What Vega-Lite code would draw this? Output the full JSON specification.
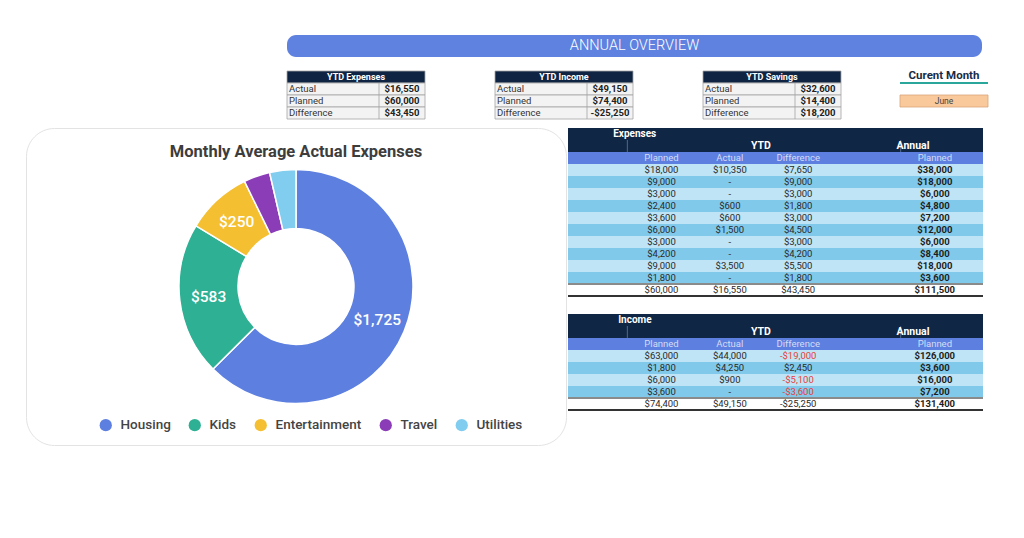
{
  "$schema": "https://vega.github.io/schema/vega-lite/v6.json",
  "background": "white",
  "padding": {"left": 25, "top": 35, "right": 0, "bottom": 0},
  "spacing": 7,
  "config": {"view": {"stroke": null}, "font": "Roboto"},
  "datasets": {
    "donut": [
      {"cat": "Housing", "value": 1725, "rank": 1},
      {"cat": "Kids", "value": 583, "rank": 2},
      {"cat": "Entertainment", "value": 250, "rank": 3},
      {"cat": "Travel", "value": 100, "rank": 4},
      {"cat": "Utilities", "value": 100, "rank": 5}
    ],
    "summary": [
      {"tbl": "YTD Expenses", "r": "h", "label": "YTD Expenses"},
      {"tbl": "YTD Expenses", "r": "a", "label": "Actual", "value": "$16,550"},
      {"tbl": "YTD Expenses", "r": "p", "label": "Planned", "value": "$60,000"},
      {"tbl": "YTD Expenses", "r": "d", "label": "Difference", "value": "$43,450"},
      {"tbl": "YTD Income", "r": "h", "label": "YTD Income"},
      {"tbl": "YTD Income", "r": "a", "label": "Actual", "value": "$49,150"},
      {"tbl": "YTD Income", "r": "p", "label": "Planned", "value": "$74,400"},
      {"tbl": "YTD Income", "r": "d", "label": "Difference", "value": "-$25,250"},
      {"tbl": "YTD Savings", "r": "h", "label": "YTD Savings"},
      {"tbl": "YTD Savings", "r": "a", "label": "Actual", "value": "$32,600"},
      {"tbl": "YTD Savings", "r": "p", "label": "Planned", "value": "$14,400"},
      {"tbl": "YTD Savings", "r": "d", "label": "Difference", "value": "$18,200"}
    ],
    "month": [
      {"r": "title", "t": "Curent Month"},
      {"r": "month", "t": "June"}
    ],
    "exp": [
      {"r": "title", "lab": "Expenses"},
      {"r": "ytd", "lab": "YTD", "lab2": "Annual"},
      {"r": "hdr", "planned": "Planned", "actual": "Actual", "diff": "Difference", "annual": "Planned"},
      {"r": "r1", "planned": "$18,000", "actual": "$10,350", "diff": "$7,650", "annual": "$38,000"},
      {"r": "r2", "planned": "$9,000", "actual": "-", "diff": "$9,000", "annual": "$18,000"},
      {"r": "r3", "planned": "$3,000", "actual": "-", "diff": "$3,000", "annual": "$6,000"},
      {"r": "r4", "planned": "$2,400", "actual": "$600", "diff": "$1,800", "annual": "$4,800"},
      {"r": "r5", "planned": "$3,600", "actual": "$600", "diff": "$3,000", "annual": "$7,200"},
      {"r": "r6", "planned": "$6,000", "actual": "$1,500", "diff": "$4,500", "annual": "$12,000"},
      {"r": "r7", "planned": "$3,000", "actual": "-", "diff": "$3,000", "annual": "$6,000"},
      {"r": "r8", "planned": "$4,200", "actual": "-", "diff": "$4,200", "annual": "$8,400"},
      {"r": "r9", "planned": "$9,000", "actual": "$3,500", "diff": "$5,500", "annual": "$18,000"},
      {"r": "r10", "planned": "$1,800", "actual": "-", "diff": "$1,800", "annual": "$3,600"},
      {"r": "tot", "planned": "$60,000", "actual": "$16,550", "diff": "$43,450", "annual": "$111,500"}
    ],
    "inc": [
      {"r": "title", "lab": "Income"},
      {"r": "ytd", "lab": "YTD", "lab2": "Annual"},
      {"r": "hdr", "planned": "Planned", "actual": "Actual", "diff": "Difference", "annual": "Planned"},
      {"r": "r1", "planned": "$63,000", "actual": "$44,000", "diff": "-$19,000", "annual": "$126,000"},
      {"r": "r2", "planned": "$1,800", "actual": "$4,250", "diff": "$2,450", "annual": "$3,600"},
      {"r": "r3", "planned": "$6,000", "actual": "$900", "diff": "-$5,100", "annual": "$16,000"},
      {"r": "r4", "planned": "$3,600", "actual": "-", "diff": "-$3,600", "annual": "$7,200"},
      {"r": "tot", "planned": "$74,400", "actual": "$49,150", "diff": "-$25,250", "annual": "$131,400"}
    ],
    "seps": [{"k": "planned"}, {"k": "annual"}]
  },
  "vconcat": [
    {
      "spacing": 10,
      "hconcat": [
        {"width": 250, "height": 10, "data": {"values": []}, "mark": "text", "encoding": {}},
        {
          "spacing": 13,
          "vconcat": [
            {
              "width": 695, "height": 22,
              "view": {"fill": "#5f82e0", "stroke": null, "cornerRadius": 9},
              "data": {"values": [{"title": "ANNUAL OVERVIEW"}]},
              "mark": {"type": "text", "color": "white", "fontSize": 14.5, "font": "Roboto", "fontWeight": 300, "baseline": "middle"},
              "encoding": {"text": {"field": "title"}}
            },
            {
              "spacing": 57,
              "hconcat": [
                {
                  "data": {"name": "summary"},
                  "facet": {"column": {"field": "tbl", "type": "nominal", "sort": ["YTD Expenses", "YTD Income", "YTD Savings"], "header": {"title": null, "labels": false}}},
                  "spacing": 68,
                  "spec": {
                    "width": 138, "height": 48,
                    "layer": [
                      {
                        "mark": {"type": "rect", "stroke": "#a3a3a3", "strokeWidth": 0.8},
                        "encoding": {
                          "y": {"field": "r", "type": "nominal", "scale": {"domain": ["h", "a", "p", "d"], "paddingInner": 0, "paddingOuter": 0}, "axis": null},
                          "fill": {"condition": {"test": "datum.r == 'h'", "value": "#0f2443"}, "value": "#f3f3f3"}
                        }
                      },
                      {
                        "transform": [{"filter": "datum.r != 'h'"}],
                        "mark": {"type": "tick", "orient": "vertical", "size": 12, "thickness": 0.8, "color": "#a3a3a3", "opacity": 1},
                        "encoding": {
                          "x": {"datum": "v", "type": "nominal", "bandPosition": 0, "scale": {"domain": ["l1", "l2", "v"], "paddingInner": 0, "paddingOuter": 0}, "axis": null},
                          "y": {"field": "r", "type": "nominal", "scale": {"domain": ["h", "a", "p", "d"], "paddingInner": 0, "paddingOuter": 0}, "axis": null}
                        }
                      },
                      {
                        "transform": [{"filter": "datum.r == 'h'"}],
                        "mark": {"type": "text", "font": "Roboto", "fontSize": 9, "fontWeight": "bold", "color": "white"},
                        "encoding": {
                          "x": {"datum": "l2", "type": "nominal", "scale": {"domain": ["l1", "l2", "v"], "paddingInner": 0, "paddingOuter": 0}, "axis": null},
                          "y": {"field": "r", "type": "nominal", "scale": {"domain": ["h", "a", "p", "d"], "paddingInner": 0, "paddingOuter": 0}, "axis": null},
                          "text": {"field": "label"}
                        }
                      },
                      {
                        "transform": [{"filter": "datum.r != 'h'"}],
                        "mark": {"type": "text", "font": "Roboto", "fontSize": 9.5, "color": "#333333", "align": "left", "dx": 2},
                        "encoding": {
                          "x": {"datum": "l1", "type": "nominal", "bandPosition": 0, "scale": {"domain": ["l1", "l2", "v"], "paddingInner": 0, "paddingOuter": 0}, "axis": null},
                          "y": {"field": "r", "type": "nominal", "scale": {"domain": ["h", "a", "p", "d"], "paddingInner": 0, "paddingOuter": 0}, "axis": null},
                          "text": {"field": "label"}
                        }
                      },
                      {
                        "transform": [{"filter": "datum.r != 'h'"}],
                        "mark": {"type": "text", "font": "Roboto", "fontSize": 9.5, "fontWeight": "bold", "color": "#222222"},
                        "encoding": {
                          "x": {"datum": "v", "type": "nominal", "scale": {"domain": ["l1", "l2", "v"], "paddingInner": 0, "paddingOuter": 0}, "axis": null},
                          "y": {"field": "r", "type": "nominal", "scale": {"domain": ["h", "a", "p", "d"], "paddingInner": 0, "paddingOuter": 0}, "axis": null},
                          "text": {"field": "value"}
                        }
                      }
                    ]
                  }
                },
                {
                  "width": 88, "height": 48,
                  "data": {"name": "month"},
                  "layer": [
                    {
                      "transform": [{"filter": "datum.r == 'month'"}],
                      "mark": {"type": "rect", "fill": "#f9c89b", "stroke": "#d9a57a", "strokeWidth": 0.8},
                      "encoding": {"y": {"field": "r", "type": "nominal", "scale": {"domain": ["title", "gap", "month", "pad"], "paddingInner": 0, "paddingOuter": 0}, "axis": null}}
                    },
                    {
                      "transform": [{"filter": "datum.r == 'title'"}],
                      "mark": {"type": "rule", "color": "#2aa69a", "strokeWidth": 2},
                      "encoding": {"y": {"field": "r", "type": "nominal", "bandPosition": 1, "scale": {"domain": ["title", "gap", "month", "pad"], "paddingInner": 0, "paddingOuter": 0}, "axis": null}}
                    },
                    {
                      "transform": [{"filter": "datum.r == 'title'"}],
                      "mark": {"type": "text", "font": "Roboto", "fontSize": 11.5, "fontWeight": "bold", "color": "#1b2b45", "dy": -1},
                      "encoding": {"y": {"field": "r", "type": "nominal", "scale": {"domain": ["title", "gap", "month", "pad"], "paddingInner": 0, "paddingOuter": 0}, "axis": null}, "text": {"field": "t"}}
                    },
                    {
                      "transform": [{"filter": "datum.r == 'month'"}],
                      "mark": {"type": "text", "font": "Roboto", "fontSize": 8.5, "color": "#444444"},
                      "encoding": {"y": {"field": "r", "type": "nominal", "scale": {"domain": ["title", "gap", "month", "pad"], "paddingInner": 0, "paddingOuter": 0}, "axis": null}, "text": {"field": "t"}}
                    }
                  ]
                }
              ]
            }
          ]
        }
      ]
    },
    {
      "spacing": 0,
      "hconcat": [
        {
          "width": 540, "height": 317,
          "view": {"fill": "white", "stroke": "#e3e3e3", "strokeWidth": 1, "cornerRadius": 28},
          "title": {"text": "Monthly Average Actual Expenses", "fontSize": 16.5, "fontWeight": 700, "color": "#3d3d3d", "font": "Roboto", "offset": -32, "anchor": "middle"},
          "data": {"name": "donut"},
          "encoding": {
            "theta": {"field": "value", "type": "quantitative", "stack": true},
            "order": {"field": "rank", "type": "quantitative"},
            "color": {
              "field": "cat", "type": "nominal",
              "scale": {"domain": ["Housing", "Kids", "Entertainment", "Travel", "Utilities"], "range": ["#5c7fe0", "#2db093", "#f4c032", "#8a3db6", "#80cdef"]},
              "legend": {"orient": "none", "legendX": 73, "legendY": 383, "direction": "horizontal", "title": null, "symbolType": "circle", "symbolSize": 150, "symbolStrokeWidth": 0, "labelFontSize": 13.5, "labelFont": "Roboto", "labelFontWeight": 500, "labelColor": "#444444", "columnPadding": 17, "labelOffset": 8}
            }
          },
          "layer": [
            {"mark": {"type": "arc", "outerRadius": 117, "innerRadius": 58, "stroke": "white", "strokeWidth": 1.5}},
            {
              "mark": {"type": "text", "radius": 88, "fill": "white", "fontSize": 15.5, "fontWeight": 500, "font": "Roboto"},
              "encoding": {
                "text": {"condition": {"test": "datum.value < 200", "value": ""}, "field": "value", "type": "quantitative", "format": "$,.0f"},
                "color": {"value": "white"}
              }
            }
          ]
        },
        {
          "spacing": 17,
          "vconcat": [
            {
              "width": 415, "height": 168,
              "data": {"name": "exp"},
              "layer": [
                {
                  "mark": {"type": "rect"},
                  "encoding": {
                    "y": {"field": "r", "type": "nominal", "scale": {"domain": ["title", "ytd", "hdr", "r1", "r2", "r3", "r4", "r5", "r6", "r7", "r8", "r9", "r10", "tot"], "paddingInner": 0, "paddingOuter": 0}, "axis": null},
                    "fill": {"condition": [
                      {"test": "datum.r == 'title' || datum.r == 'ytd'", "value": "#0f2645"},
                      {"test": "datum.r == 'hdr'", "value": "#5d7fe0"},
                      {"test": "datum.r == 'tot'", "value": "#ffffff"},
                      {"test": "indexof(['r1','r3','r5','r7','r9'], datum.r) >= 0", "value": "#bfe4f5"}
                    ], "value": "#80c9ea"}
                  }
                },
                {
                  "data": {"name": "seps"},
                  "mark": {"type": "tick", "orient": "vertical", "size": 12, "thickness": 1, "color": "#51698c", "opacity": 1},
                  "encoding": {
                    "x": {"field": "k", "type": "nominal", "bandPosition": 0, "scale": {"domain": ["c0", "planned", "actual", "diff", "c4", "annual"], "range": [-9, 401], "paddingInner": 0, "paddingOuter": 0}, "axis": null},
                    "y": {"datum": "ytd", "type": "nominal", "scale": {"domain": ["title", "ytd", "hdr", "r1", "r2", "r3", "r4", "r5", "r6", "r7", "r8", "r9", "r10", "tot"], "paddingInner": 0, "paddingOuter": 0}, "axis": null}
                  }
                },
                {
                  "mark": {"type": "rule", "color": "#8a8a8a", "strokeWidth": 1},
                  "encoding": {"y": {"datum": "tot", "type": "nominal", "bandPosition": 0, "scale": {"domain": ["title", "ytd", "hdr", "r1", "r2", "r3", "r4", "r5", "r6", "r7", "r8", "r9", "r10", "tot"], "paddingInner": 0, "paddingOuter": 0}, "axis": null}}
                },
                {
                  "mark": {"type": "rule", "color": "#333333", "strokeWidth": 2},
                  "encoding": {"y": {"datum": "tot", "type": "nominal", "bandPosition": 1, "scale": {"domain": ["title", "ytd", "hdr", "r1", "r2", "r3", "r4", "r5", "r6", "r7", "r8", "r9", "r10", "tot"], "paddingInner": 0, "paddingOuter": 0}, "axis": null}}
                },
                {
                  "transform": [{"filter": "datum.r == 'title'"}],
                  "mark": {"type": "text", "font": "Roboto", "fontSize": 10, "fontWeight": "bold", "color": "white", "align": "left", "dx": 20},
                  "encoding": {
                    "x": {"datum": "c0", "type": "nominal", "scale": {"domain": ["c0", "planned", "actual", "diff", "c4", "annual"], "range": [-9, 401], "paddingInner": 0, "paddingOuter": 0}, "axis": null},
                    "y": {"field": "r", "type": "nominal", "scale": {"domain": ["title", "ytd", "hdr", "r1", "r2", "r3", "r4", "r5", "r6", "r7", "r8", "r9", "r10", "tot"], "paddingInner": 0, "paddingOuter": 0}, "axis": null},
                    "text": {"field": "lab"}
                  }
                },
                {
                  "transform": [{"filter": "datum.r == 'ytd'"}],
                  "mark": {"type": "text", "font": "Roboto", "fontSize": 10.5, "fontWeight": "bold", "color": "white", "dx": 31},
                  "encoding": {
                    "x": {"datum": "actual", "type": "nominal", "scale": {"domain": ["c0", "planned", "actual", "diff", "c4", "annual"], "range": [-9, 401], "paddingInner": 0, "paddingOuter": 0}, "axis": null},
                    "y": {"field": "r", "type": "nominal", "scale": {"domain": ["title", "ytd", "hdr", "r1", "r2", "r3", "r4", "r5", "r6", "r7", "r8", "r9", "r10", "tot"], "paddingInner": 0, "paddingOuter": 0}, "axis": null},
                    "text": {"field": "lab"}
                  }
                },
                {
                  "transform": [{"filter": "datum.r == 'ytd'"}],
                  "mark": {"type": "text", "font": "Roboto", "fontSize": 10.5, "fontWeight": "bold", "color": "white", "align": "left", "dx": 30},
                  "encoding": {
                    "x": {"datum": "c4", "type": "nominal", "scale": {"domain": ["c0", "planned", "actual", "diff", "c4", "annual"], "range": [-9, 401], "paddingInner": 0, "paddingOuter": 0}, "axis": null},
                    "y": {"field": "r", "type": "nominal", "scale": {"domain": ["title", "ytd", "hdr", "r1", "r2", "r3", "r4", "r5", "r6", "r7", "r8", "r9", "r10", "tot"], "paddingInner": 0, "paddingOuter": 0}, "axis": null},
                    "text": {"field": "lab2"}
                  }
                },
                {
                  "transform": [{"fold": ["planned", "actual", "diff", "annual"], "as": ["k", "v"]}, {"filter": "datum.v != null && !(datum.k == 'annual' && datum.r != 'hdr')"}],
                  "mark": {"type": "text", "font": "Roboto", "fontSize": 9.5},
                  "encoding": {
                    "x": {"field": "k", "type": "nominal", "scale": {"domain": ["c0", "planned", "actual", "diff", "c4", "annual"], "range": [-9, 401], "paddingInner": 0, "paddingOuter": 0}, "axis": null},
                    "y": {"field": "r", "type": "nominal", "scale": {"domain": ["title", "ytd", "hdr", "r1", "r2", "r3", "r4", "r5", "r6", "r7", "r8", "r9", "r10", "tot"], "paddingInner": 0, "paddingOuter": 0}, "axis": null},
                    "text": {"field": "v"},
                    "color": {"condition": [
                      {"test": "datum.r == 'hdr'", "value": "#d5ddf7"},
                      {"test": "datum.k == 'diff' && datum.r != 'tot' && indexof(datum.v, '-') == 0", "value": "#e8403a"}
                    ], "value": "#2a2a2a"}
                  }
                },
                {
                  "transform": [{"filter": "datum.annual != null && datum.r != 'hdr'"}],
                  "mark": {"type": "text", "font": "Roboto", "fontSize": 9.5, "fontWeight": "bold", "color": "#1e1e1e"},
                  "encoding": {
                    "x": {"datum": "annual", "type": "nominal", "scale": {"domain": ["c0", "planned", "actual", "diff", "c4", "annual"], "range": [-9, 401], "paddingInner": 0, "paddingOuter": 0}, "axis": null},
                    "y": {"field": "r", "type": "nominal", "scale": {"domain": ["title", "ytd", "hdr", "r1", "r2", "r3", "r4", "r5", "r6", "r7", "r8", "r9", "r10", "tot"], "paddingInner": 0, "paddingOuter": 0}, "axis": null},
                    "text": {"field": "annual"}
                  }
                }
              ]
            },
            {
              "width": 415, "height": 96,
              "data": {"name": "inc"},
              "layer": [
                {
                  "mark": {"type": "rect"},
                  "encoding": {
                    "y": {"field": "r", "type": "nominal", "scale": {"domain": ["title", "ytd", "hdr", "r1", "r2", "r3", "r4", "tot"], "paddingInner": 0, "paddingOuter": 0}, "axis": null},
                    "fill": {"condition": [
                      {"test": "datum.r == 'title' || datum.r == 'ytd'", "value": "#0f2645"},
                      {"test": "datum.r == 'hdr'", "value": "#5d7fe0"},
                      {"test": "datum.r == 'tot'", "value": "#ffffff"},
                      {"test": "indexof(['r1','r3'], datum.r) >= 0", "value": "#bfe4f5"}
                    ], "value": "#80c9ea"}
                  }
                },
                {
                  "data": {"name": "seps"},
                  "mark": {"type": "tick", "orient": "vertical", "size": 12, "thickness": 1, "color": "#51698c", "opacity": 1},
                  "encoding": {
                    "x": {"field": "k", "type": "nominal", "bandPosition": 0, "scale": {"domain": ["c0", "planned", "actual", "diff", "c4", "annual"], "range": [-9, 401], "paddingInner": 0, "paddingOuter": 0}, "axis": null},
                    "y": {"datum": "ytd", "type": "nominal", "scale": {"domain": ["title", "ytd", "hdr", "r1", "r2", "r3", "r4", "tot"], "paddingInner": 0, "paddingOuter": 0}, "axis": null}
                  }
                },
                {
                  "mark": {"type": "rule", "color": "#8a8a8a", "strokeWidth": 1},
                  "encoding": {"y": {"datum": "tot", "type": "nominal", "bandPosition": 0, "scale": {"domain": ["title", "ytd", "hdr", "r1", "r2", "r3", "r4", "tot"], "paddingInner": 0, "paddingOuter": 0}, "axis": null}}
                },
                {
                  "mark": {"type": "rule", "color": "#333333", "strokeWidth": 2},
                  "encoding": {"y": {"datum": "tot", "type": "nominal", "bandPosition": 1, "scale": {"domain": ["title", "ytd", "hdr", "r1", "r2", "r3", "r4", "tot"], "paddingInner": 0, "paddingOuter": 0}, "axis": null}}
                },
                {
                  "transform": [{"filter": "datum.r == 'title'"}],
                  "mark": {"type": "text", "font": "Roboto", "fontSize": 10, "fontWeight": "bold", "color": "white", "align": "left", "dx": 25},
                  "encoding": {
                    "x": {"datum": "c0", "type": "nominal", "scale": {"domain": ["c0", "planned", "actual", "diff", "c4", "annual"], "range": [-9, 401], "paddingInner": 0, "paddingOuter": 0}, "axis": null},
                    "y": {"field": "r", "type": "nominal", "scale": {"domain": ["title", "ytd", "hdr", "r1", "r2", "r3", "r4", "tot"], "paddingInner": 0, "paddingOuter": 0}, "axis": null},
                    "text": {"field": "lab"}
                  }
                },
                {
                  "transform": [{"filter": "datum.r == 'ytd'"}],
                  "mark": {"type": "text", "font": "Roboto", "fontSize": 10.5, "fontWeight": "bold", "color": "white", "dx": 31},
                  "encoding": {
                    "x": {"datum": "actual", "type": "nominal", "scale": {"domain": ["c0", "planned", "actual", "diff", "c4", "annual"], "range": [-9, 401], "paddingInner": 0, "paddingOuter": 0}, "axis": null},
                    "y": {"field": "r", "type": "nominal", "scale": {"domain": ["title", "ytd", "hdr", "r1", "r2", "r3", "r4", "tot"], "paddingInner": 0, "paddingOuter": 0}, "axis": null},
                    "text": {"field": "lab"}
                  }
                },
                {
                  "transform": [{"filter": "datum.r == 'ytd'"}],
                  "mark": {"type": "text", "font": "Roboto", "fontSize": 10.5, "fontWeight": "bold", "color": "white", "align": "left", "dx": 30},
                  "encoding": {
                    "x": {"datum": "c4", "type": "nominal", "scale": {"domain": ["c0", "planned", "actual", "diff", "c4", "annual"], "range": [-9, 401], "paddingInner": 0, "paddingOuter": 0}, "axis": null},
                    "y": {"field": "r", "type": "nominal", "scale": {"domain": ["title", "ytd", "hdr", "r1", "r2", "r3", "r4", "tot"], "paddingInner": 0, "paddingOuter": 0}, "axis": null},
                    "text": {"field": "lab2"}
                  }
                },
                {
                  "transform": [{"fold": ["planned", "actual", "diff", "annual"], "as": ["k", "v"]}, {"filter": "datum.v != null && !(datum.k == 'annual' && datum.r != 'hdr')"}],
                  "mark": {"type": "text", "font": "Roboto", "fontSize": 9.5},
                  "encoding": {
                    "x": {"field": "k", "type": "nominal", "scale": {"domain": ["c0", "planned", "actual", "diff", "c4", "annual"], "range": [-9, 401], "paddingInner": 0, "paddingOuter": 0}, "axis": null},
                    "y": {"field": "r", "type": "nominal", "scale": {"domain": ["title", "ytd", "hdr", "r1", "r2", "r3", "r4", "tot"], "paddingInner": 0, "paddingOuter": 0}, "axis": null},
                    "text": {"field": "v"},
                    "color": {"condition": [
                      {"test": "datum.r == 'hdr'", "value": "#d5ddf7"},
                      {"test": "datum.k == 'diff' && datum.r != 'tot' && indexof(datum.v, '-') == 0", "value": "#e8403a"}
                    ], "value": "#2a2a2a"}
                  }
                },
                {
                  "transform": [{"filter": "datum.annual != null && datum.r != 'hdr'"}],
                  "mark": {"type": "text", "font": "Roboto", "fontSize": 9.5, "fontWeight": "bold", "color": "#1e1e1e"},
                  "encoding": {
                    "x": {"datum": "annual", "type": "nominal", "scale": {"domain": ["c0", "planned", "actual", "diff", "c4", "annual"], "range": [-9, 401], "paddingInner": 0, "paddingOuter": 0}, "axis": null},
                    "y": {"field": "r", "type": "nominal", "scale": {"domain": ["title", "ytd", "hdr", "r1", "r2", "r3", "r4", "tot"], "paddingInner": 0, "paddingOuter": 0}, "axis": null},
                    "text": {"field": "annual"}
                  }
                }
              ]
            }
          ]
        }
      ]
    }
  ]
}
